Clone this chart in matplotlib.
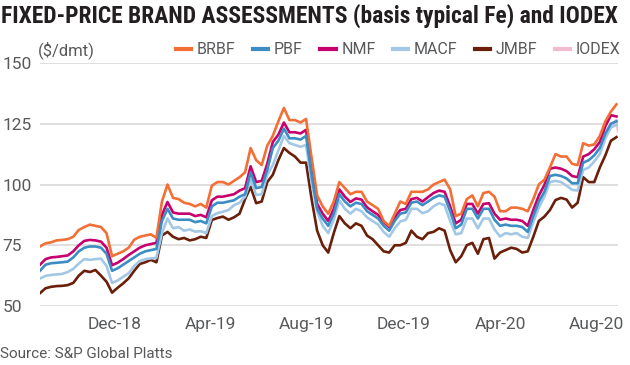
import matplotlib
matplotlib.use("Agg")
import matplotlib.pyplot as plt
import matplotlib.dates as mdates
import pandas as pd
from matplotlib.lines import Line2D

# ---------------- data (weekly readings, $/dmt) ----------------
start_date = "2018-08-29"
n_weeks = 105

brbf = [74.5, 75.8, 76.2, 77.0, 77.2, 77.5, 78.5, 81.3, 82.5, 83.5, 83.0, 82.5, 80.0, 70.5,
        71.5, 72.5, 74.0, 77.3, 78.5, 79.0, 79.5, 78.0, 93.0, 100.0, 94.5, 94.0, 92.5, 92.0,
        91.0, 92.0, 90.5, 99.5, 101.0, 101.0, 100.0, 101.5, 103.0, 105.0, 115.0, 110.0, 108.0,
        116.0, 120.0, 126.0, 131.5, 126.5, 126.5, 125.5, 127.0, 111.0, 95.5, 91.0, 88.0, 93.0,
        101.0, 98.5, 96.0, 97.0, 97.0, 93.0, 91.5, 90.0, 85.0, 83.0, 88.0, 93.0, 92.0, 97.0,
        97.0, 97.0, 98.0, 100.0, 101.0, 102.0, 98.0, 87.0, 88.0, 94.0, 95.5, 91.0, 96.5, 97.0,
        95.0, 89.0, 89.0, 90.5, 90.5, 90.0, 89.0, 94.0, 100.0, 102.0, 107.0, 112.5, 111.5,
        111.5, 108.5, 108.0, 117.0, 116.0, 116.5, 120.0, 126.0, 130.0, 133.0]

pbf = [64.5, 67.0, 67.6, 67.8, 68.0, 68.3, 70.0, 72.5, 74.0, 74.5, 74.5, 74.0, 71.5, 64.5,
       65.5, 67.0, 68.5, 70.0, 71.5, 72.5, 73.0, 73.5, 85.0, 90.0, 86.0, 85.5, 85.5, 85.5,
       84.5, 85.0, 84.0, 91.0, 92.5, 92.5, 93.0, 93.5, 95.0, 96.0, 105.0, 98.5, 99.0, 106.0,
       115.0, 118.0, 123.0, 119.0, 119.0, 118.5, 120.0, 104.0, 90.0, 86.0, 83.0, 88.0, 96.0,
       93.0, 91.0, 92.5, 92.0, 89.0, 87.5, 86.0, 83.0, 81.0, 85.0, 88.0, 88.5, 92.5, 93.0,
       91.5, 93.0, 94.5, 95.5, 95.0, 89.0, 82.0, 83.5, 90.0, 90.0, 86.0, 90.0, 90.0, 85.5,
       83.0, 83.5, 83.0, 83.0, 82.5, 80.5, 87.0, 93.0, 97.0, 103.5, 104.0, 103.5, 102.5,
       100.5, 100.5, 109.0, 110.0, 112.0, 115.0, 121.0, 125.0, 126.0]

nmf = [67.0, 69.3, 70.0, 70.2, 70.5, 70.8, 72.5, 75.0, 76.8, 77.2, 77.0, 76.5, 74.0, 66.8,
       67.8, 69.3, 71.0, 72.5, 74.0, 75.0, 75.5, 76.0, 87.5, 92.8, 88.5, 88.0, 88.0, 88.0,
       87.0, 87.5, 86.5, 93.5, 95.0, 95.0, 95.5, 96.0, 97.5, 98.5, 107.5, 101.0, 101.5, 108.5,
       117.5, 120.5, 125.5, 121.5, 121.5, 121.0, 122.5, 106.5, 92.0, 88.0, 85.0, 90.0, 98.0,
       95.0, 92.8, 94.3, 93.8, 90.6, 89.0, 87.5, 84.5, 82.5, 86.5, 89.5, 90.0, 94.0, 94.5,
       93.0, 94.8, 96.5, 97.5, 97.0, 91.0, 84.0, 85.5, 92.0, 92.0, 88.0, 92.0, 92.3, 88.0,
       85.5, 86.0, 85.5, 85.5, 85.0, 83.0, 89.5, 95.5, 99.8, 106.5, 107.0, 106.5, 105.5,
       103.5, 103.0, 111.5, 112.5, 114.5, 117.5, 124.0, 128.5, 128.0]

macf = [61.3, 62.4, 62.8, 63.0, 63.2, 64.0, 65.3, 67.5, 69.3, 69.0, 69.3, 69.5, 66.5, 59.5,
        60.5, 62.0, 63.5, 66.5, 68.5, 69.3, 69.6, 69.8, 80.0, 86.0, 82.0, 82.5, 81.0, 81.5,
        80.6, 80.8, 80.0, 87.0, 88.2, 88.8, 89.5, 91.5, 92.5, 95.0, 102.0, 95.7, 96.0, 104.0,
        108.0, 114.0, 120.0, 117.0, 116.3, 115.5, 116.3, 101.0, 88.8, 83.0, 80.0, 85.5, 93.5,
        90.0, 88.0, 90.0, 89.0, 86.5, 85.0, 83.5, 80.5, 78.5, 82.0, 84.8, 85.5, 90.0, 90.0,
        88.2, 89.0, 91.0, 92.3, 91.5, 85.0, 79.5, 80.0, 86.0, 86.0, 82.0, 86.0, 86.0, 81.5,
        78.6, 80.0, 79.5, 80.0, 78.5, 78.0, 84.5, 90.5, 95.0, 101.0, 101.5, 101.0, 99.5,
        97.8, 97.5, 106.0, 107.0, 109.5, 112.5, 119.0, 123.5, 124.5]

jmbf = [55.3, 57.3, 57.9, 58.2, 58.3, 58.6, 59.5, 62.5, 64.5, 64.0, 64.8, 62.5, 60.0, 55.5,
        57.5, 59.3, 61.4, 64.5, 67.3, 68.0, 69.0, 68.0, 79.0, 80.5, 78.5, 77.5, 78.0, 77.0,
        77.5, 78.5, 78.0, 85.4, 86.2, 86.8, 85.5, 86.5, 88.0, 94.0, 99.0, 92.3, 93.0, 101.0,
        104.0, 110.0, 115.0, 113.0, 111.5, 109.0, 109.0, 94.0, 81.0, 75.0, 72.0, 80.0, 87.0,
        84.0, 82.0, 84.0, 83.0, 79.0, 77.5, 75.0, 72.5, 72.0, 75.0, 75.0, 76.0, 81.0, 78.5,
        77.5, 80.0, 80.5, 82.0, 81.0, 73.0, 68.0, 70.5, 75.0, 76.0, 71.5, 77.5, 78.0, 69.5,
        72.0, 73.0, 74.0, 73.5, 72.0, 72.5, 78.5, 85.0, 86.8, 89.5, 93.6, 94.5, 93.8, 90.5,
        92.5, 103.0, 101.0, 101.0, 107.0, 112.0, 118.0, 119.5]

iodex_dates = ["2020-08-12", "2020-08-19", "2020-08-26", "2020-08-28"]
iodex = [120.5, 124.5, 126.5, 122.0]

series_names = ["BRBF", "PBF", "NMF", "MACF", "JMBF", "IODEX"]
colors = {"BRBF": "#F26F35", "PBF": "#3B8DC4", "NMF": "#C7006E",
          "MACF": "#A3C8E6", "JMBF": "#6A1F0A", "IODEX": "#F3BBD0"}

title = "FIXED-PRICE BRAND ASSESSMENTS (basis typical Fe) and IODEX"
unit_label = "($/dmt)"
source = "Source: S&P Global Platts"
yticks = [50, 75, 100, 125, 150]
xtick_dates = ["2018-12-01", "2019-04-01", "2019-08-01", "2019-12-01", "2020-04-01", "2020-08-01"]

# ---------------- figure ----------------
plt.rcParams["font.family"] = ["Roboto", "DejaVu Sans"]
TITLE_FONT = ["Roboto Condensed", "Liberation Sans Narrow", "Roboto", "DejaVu Sans"]

dates = pd.date_range(start_date, periods=n_weeks, freq="7D")
data = {"BRBF": brbf, "PBF": pbf, "NMF": nmf, "MACF": macf, "JMBF": jmbf}

fig = plt.figure(figsize=(6.3, 3.65), dpi=100)
ax = fig.add_axes([0.0635, 0.1616, 0.9175, 0.6658])

lw = 1.9
ax.plot(pd.to_datetime(iodex_dates), iodex, color=colors["IODEX"], lw=lw, zorder=2)
ax.plot(dates, data["JMBF"], color=colors["JMBF"], lw=lw, zorder=3)
ax.plot(dates, data["MACF"], color=colors["MACF"], lw=lw, zorder=4)
ax.plot(dates, data["NMF"], color=colors["NMF"], lw=lw, zorder=5)
ax.plot(dates, data["BRBF"], color=colors["BRBF"], lw=lw, zorder=5)
ax.plot(dates, data["PBF"], color=colors["PBF"], lw=lw, zorder=6)

ax.set_ylim(50, 150)
ax.set_xlim(pd.Timestamp(start_date), pd.Timestamp("2020-08-28"))
ax.set_yticks(yticks)
ax.yaxis.grid(True, color="#d9d9d9", lw=1.2, zorder=0)
ax.set_axisbelow(True)
for s in ax.spines.values():
    s.set_visible(False)

ax.set_xticks(pd.to_datetime(xtick_dates))
ax.xaxis.set_major_formatter(mdates.DateFormatter("%b-%y"))
ax.tick_params(axis="both", length=0, labelsize=12.5, colors="#58595b")
ax.tick_params(axis="x", pad=8)
ax.tick_params(axis="y", pad=27)
for lab in ax.get_yticklabels():
    lab.set_horizontalalignment("left")

fig.text(0.002, 0.958, title, fontsize=16.9, fontweight="bold", color="#231f20",
         ha="left", va="center", family=TITLE_FONT)
fig.text(0.06, 0.862, unit_label, fontsize=12, color="#58595b", ha="left", va="center")
fig.text(0.0, 0.03, source, fontsize=11, color="#58595b", ha="left", va="center")

handles = [Line2D([0], [0], color=colors[n], lw=3) for n in series_names]
leg = fig.legend(handles, series_names, loc="center right", bbox_to_anchor=(0.985, 0.864),
                 ncol=6, frameon=False, fontsize=11.5, handlelength=0.95, handletextpad=0.35,
                 columnspacing=1.1, borderaxespad=0, borderpad=0)
for t in leg.get_texts():
    t.set_color("#58595b")

fig.savefig("out.png", dpi=100)
